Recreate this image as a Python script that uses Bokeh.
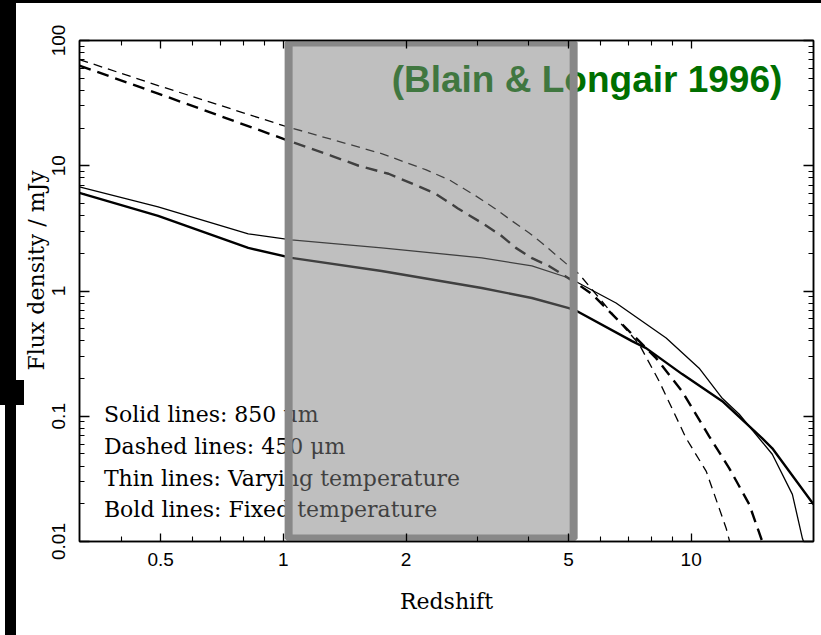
from bokeh.core.properties import value
from bokeh.embed import file_html
from bokeh.layouts import column
from bokeh.models import FixedTicker, LogAxis, Title
from bokeh.plotting import figure
from bokeh.resources import INLINE

# Redshift / flux-density tracks (mJy) for the four model curves
Z_450_VARY = [0.316, 0.493, 1.0, 1.741, 2.233, 2.55, 2.963, 3.30, 3.633, 4.0,
              4.304, 5.013, 5.306, 6.543, 7.451, 8.345, 9.72, 10.89, 12.19, 12.5]
F_450_VARY = [70.5, 43.7, 20.9, 12.5, 9.3, 7.72, 5.75, 4.56, 3.63, 2.92,
              2.42, 1.585, 1.368, 0.608, 0.377, 0.1905, 0.0667, 0.0363, 0.0127, 0.0093]

Z_450_FIX = [0.316, 0.493, 1.0, 1.312, 1.53, 1.811, 2.07, 2.363, 2.68, 3.065,
             3.41, 3.716, 4.07, 4.479, 5.217, 5.712, 7.161, 8.204, 9.504, 11.07,
             12.40, 13.88, 14.94, 15.1]
F_450_FIX = [63.1, 37.7, 16.4, 12.0, 10.0, 8.63, 7.2, 5.97, 4.56, 3.50,
             2.79, 2.21, 1.83, 1.585, 1.159, 0.946, 0.453, 0.291, 0.158, 0.0692,
             0.0384, 0.0198, 0.0100, 0.0093]

Z_850_VARY = [0.316, 0.493, 0.820, 1.046, 1.741, 3.065, 4.068, 5.013, 5.24, 6.543,
              8.683, 10.46, 11.92, 13.12, 15.81, 17.71, 18.74, 19.0]
F_850_VARY = [6.79, 4.70, 2.86, 2.56, 2.21, 1.84, 1.585, 1.27, 1.18, 0.802,
              0.421, 0.242, 0.139, 0.1038, 0.0497, 0.0238, 0.0106, 0.0093]

Z_850_FIX = [0.316, 0.493, 0.820, 1.046, 1.741, 3.065, 4.068, 5.013, 5.24, 7.161,
             7.752, 9.504, 11.92, 12.90, 14.94, 15.81, 19.95]
F_850_FIX = [6.08, 3.98, 2.21, 1.84, 1.445, 1.057, 0.879, 0.731, 0.692, 0.398,
             0.350, 0.217, 0.132, 0.1038, 0.0667, 0.0555, 0.0198]

# Highlighted redshift band
BAND_Z = [1.03, 5.15]
BAND_FLUX = [0.01057, 96.4]

# Axis ticks and labels
X_TICKS = [0.5, 1, 2, 5, 10]
X_TICK_LABELS = ["0.5", "1", "2", "5", "10"]
X_MINOR = [0.4, 0.6, 0.7, 0.8, 0.9, 3, 4, 6, 7, 8, 9]
Y_TICKS = [0.01, 0.1, 1, 10, 100]
Y_TICK_LABELS = ["0.01", "0.1", "1", "10", "100"]
Y_MINOR = [m * d for d in (0.01, 0.1, 1, 10) for m in range(2, 10)]

KEY_LINES = ["Solid lines: 850 \u03bcm", "Dashed lines: 450 \u03bcm",
             "Thin lines: Varying temperature", "Bold lines: Fixed temperature"]
KEY_FLUX = [0.1038, 0.0573, 0.0317, 0.0179]
TITLE = "(Blain & Longair 1996)"
Y_LABEL = "Flux density / mJy"
X_LABEL = "Redshift"

X_RANGE = (10 ** -0.5, 10 ** 1.3)
Y_RANGE = (0.01, 100)

SERIF = "DejaVu Serif"
SANS = "Liberation Sans"

p = figure(
    frame_width=734, frame_height=501,
    min_border_left=79, min_border_right=8, min_border_top=40, min_border_bottom=94,
    x_axis_type="log", y_axis_type="log",
    x_range=X_RANGE, y_range=Y_RANGE,
    output_backend="svg", toolbar_location=None,
    background_fill_color="white", border_fill_color=None,
)


def block(x, y, w, h):
    return f"linear-gradient(black, black) {x}px {y}px / {w}px {h}px no-repeat"


# scanned-page edge: dark strips along the left and top of the sheet
p.styles = {
    "background": ", ".join([
        block(0, 0, 821, 3),
        block(0, 0, 16, 405),
        block(0, 380, 24, 25),
        block(5, 405, 11, 230),
        "white",
    ]),
}
p.outline_line_color = "black"
p.outline_line_width = 1.5
p.xgrid.visible = False
p.ygrid.visible = False


def style_axis(ax, ticker, labels=None):
    ax.ticker = ticker
    ax.axis_line_color = "black"
    ax.axis_line_width = 1.5
    ax.major_tick_out = 0
    ax.minor_tick_out = 0
    ax.major_tick_line_color = "black"
    ax.minor_tick_line_color = "black"
    ax.major_tick_line_width = 1.3
    ax.minor_tick_line_width = 1.1
    if labels is None:
        ax.major_label_text_font_size = "0px"
        ax.major_label_standoff = 0
        ax.major_label_text_color = None
    else:
        ax.major_label_overrides = labels
        ax.major_label_text_font = SANS
        ax.major_label_text_font_size = "19px"
        ax.major_label_text_color = "black"


xax = p.xaxis[0]
style_axis(xax, FixedTicker(ticks=X_TICKS, minor_ticks=X_MINOR), dict(zip(X_TICKS, X_TICK_LABELS)))
xax.major_tick_in = 8
xax.minor_tick_in = 5
xax.major_label_standoff = 11
xax.axis_label = X_LABEL
xax.axis_label_text_font = SERIF
xax.axis_label_text_font_style = "normal"
xax.axis_label_text_font_size = "22px"
xax.axis_label_text_color = "black"
xax.axis_label_standoff = 20

yax = p.yaxis[0]
style_axis(yax, FixedTicker(ticks=Y_TICKS, minor_ticks=Y_MINOR), dict(zip(Y_TICKS, Y_TICK_LABELS)))
yax.major_tick_in = 10
yax.minor_tick_in = 5
yax.major_label_orientation = "vertical"
yax.major_label_standoff = 15

top_ax = LogAxis()
style_axis(top_ax, FixedTicker(ticks=X_TICKS, minor_ticks=X_MINOR))
top_ax.major_tick_in = 8
top_ax.minor_tick_in = 5
p.add_layout(top_ax, "above")

right_ax = LogAxis()
style_axis(right_ax, FixedTicker(ticks=Y_TICKS, minor_ticks=Y_MINOR))
right_ax.major_tick_in = 10
right_ax.minor_tick_in = 5
p.add_layout(right_ax, "right")

# Vertical y-axis title, running up from a point above the frame bottom
p.add_layout(Title(text=Y_LABEL, align="left", offset=171, standoff=0,
                   text_font=SERIF, text_font_size="22px", text_font_style="normal",
                   text_color="black"), "left")

# Model curves
p.line(Z_450_VARY, F_450_VARY, line_color="black", line_width=1.3, line_dash="9 6")
p.line(Z_450_FIX, F_450_FIX, line_color="black", line_width=2.4, line_dash="12 7")
p.line(Z_850_VARY, F_850_VARY, line_color="black", line_width=1.3)
p.line(Z_850_FIX, F_850_FIX, line_color="black", line_width=2.4)

# Key text in the lower-left corner
p.text(x=[0.363] * len(KEY_LINES), y=KEY_FLUX, text=KEY_LINES,
       text_font=value(SERIF), text_font_size="22px", text_color="black",
       text_align="left", text_baseline="middle")

# Reference caption
p.text(x=[1.843], y=[48.8], text=[TITLE], text_font=value(SANS),
       text_font_size="37px", text_font_style="bold", text_color="#006f00",
       text_align="left", text_baseline="middle")

# Shaded redshift band drawn over everything
p.quad(left=[BAND_Z[0]], right=[BAND_Z[1]], bottom=[BAND_FLUX[0]], top=[BAND_FLUX[1]],
       fill_color="#808080", fill_alpha=0.5, line_color="#888888", line_width=8)

# white sheet behind the figure, filling the full page width
page = column(p, width=821, height=635, margin=0, spacing=0,
              styles={"background-color": "white"})

open("out.html", "w").write(file_html(page, INLINE))
